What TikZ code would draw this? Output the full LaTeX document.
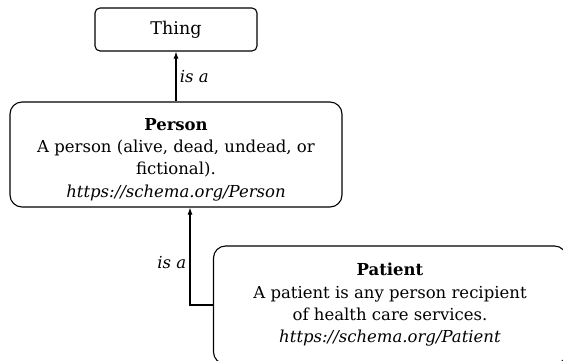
\documentclass[tikz,border=0pt]{standalone}
\usepackage{fontspec}
\setmainfont{DejaVu Serif}
\usetikzlibrary{positioning}
\usetikzlibrary{arrows.meta}

\tikzset{
  class/.style={draw, rounded corners=12pt, line width=1.1pt, align=center, inner sep=0pt,
    font=\fontsize{16.5}{22.3}\selectfont},
  isa/.style={-{Latex[length=7pt,width=5pt]}, line width=1.1pt},
  rel/.style={font=\fontsize{16.5}{22}\selectfont\itshape},
}

\begin{document}
\begin{tikzpicture}[x=1pt, y=1pt]
        \useasboundingbox (0,0) rectangle (563,360);
        \clip (0,0) rectangle (563,360);
        \node[class, rounded corners=5pt, minimum width=162pt, minimum height=43pt, font=\fontsize{17.5}{22}\selectfont] (thing) at (176,330.5) {Thing} ; %
        \node[class, minimum width=332pt, minimum height=105pt] (person) at (176,205.5)
          {\rule{0pt}{22pt}\textbf{Person}\\A person (alive, dead, undead, or\\fictional).\\\textit{https://schema.org/Person}} ; %
        \node[class, minimum width=353pt, minimum height=118pt] (patient) at (390,55)
          {\textbf{Patient}\\A patient is any person recipient\\of health care services.\\\textit{https://schema.org/Patient}} ; %
        \draw[isa] (person) -- (thing) node[rel, midway, right] {is a} ; %
        \draw[isa] (patient.west) -| ([xshift=14pt]person.south) node[rel, pos=0.72, left] {is a} ; %
      \end{tikzpicture}
\end{document}
